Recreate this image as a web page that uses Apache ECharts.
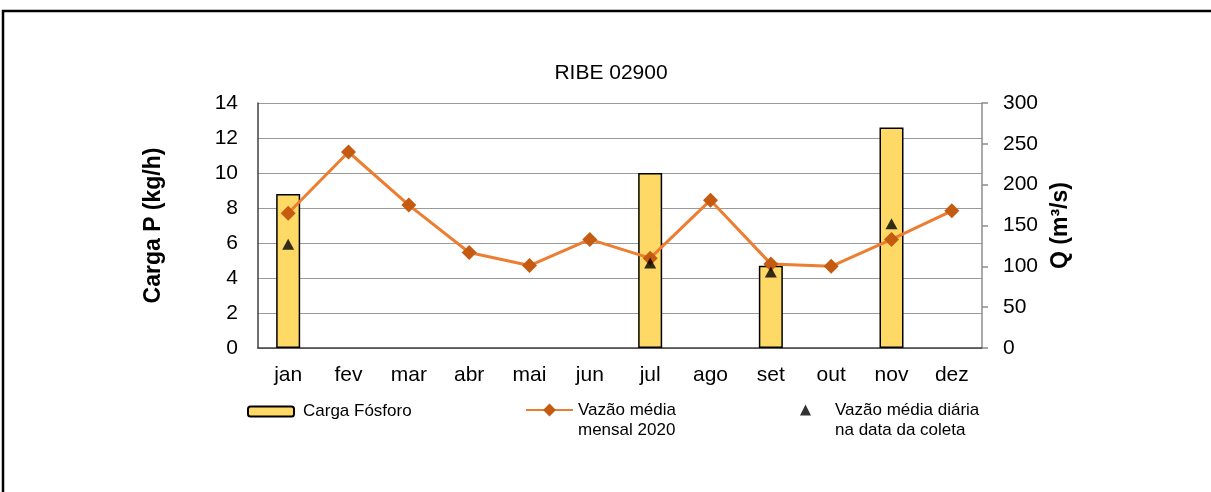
<!DOCTYPE html>
<html>
<head>
<meta charset="utf-8">
<script src="https://cdn.jsdelivr.net/npm/echarts@6/dist/echarts.min.js"></script>
<style>
  html, body { margin: 0; padding: 0; background: #fff; }
  #chart { width: 1211px; height: 492px; }
</style>
</head>
<body>
<div id="chart"></div>
<script>
// Months of 2020
const months = ['jan', 'fev', 'mar', 'abr', 'mai', 'jun', 'jul', 'ago', 'set', 'out', 'nov', 'dez'];
// Phosphorus load (kg/h), only on sampling months
const cargaFosforo = [8.8, '-', '-', '-', '-', '-', 10.0, '-', 4.7, '-', 12.6, '-'];
// Monthly mean discharge 2020 (m³/s)
const vazaoMensal = [165, 240, 175, 117, 101, 133, 110, 181, 103, 100, 133, 168];
// Daily mean discharge on the sampling date (m³/s)
const vazaoDiaria = [127, '-', '-', '-', '-', '-', 104, '-', 93, '-', 152, '-'];

const leftTicks = { min: 0, max: 14, interval: 2 };
const rightTicks = { min: 0, max: 300, interval: 50 };

const nameBar = 'Carga Fósforo';
const nameLine = 'Vazão média\nmensal 2020';
const nameScatter = 'Vazão média diária\nna data da coleta';

const font = 'Liberation Sans, Arial, sans-serif';

// Two-line legend labels: a leading empty line keeps the icon level with the first line
const twoLineFormatter = name => '\n' + name;

const chart = echarts.init(document.getElementById('chart'), null, { renderer: 'canvas' });

chart.setOption({
  backgroundColor: '#ffffff',
  animation: false,
  textStyle: { fontFamily: font, color: '#000' },
  title: {
    text: 'RIBE 02900',
    left: 606,
    textAlign: 'center',
    top: 58,
    textStyle: { fontFamily: font, fontSize: 21, fontWeight: 'normal', color: '#000' }
  },
  graphic: [{
    type: 'rect',
    silent: true,
    shape: { x: 3, y: 11, width: 1300, height: 600 },
    style: { fill: 'none', stroke: '#000', lineWidth: 2.5 }
  }],
  grid: { left: 258, right: 229, top: 103, bottom: 144, containLabel: false },
  legend: [
    {
      data: [nameBar],
      left: 247, top: 403,
      padding: 0,
      itemWidth: 46, itemHeight: 10,
      textStyle: { fontFamily: font, fontSize: 17, color: '#000', padding: [0, 0, 0, 4] }
    },
    {
      data: [nameLine],
      left: 525, top: 380,
      padding: 0,
      itemWidth: 47, itemHeight: 16,
      formatter: twoLineFormatter,
      textStyle: { fontFamily: font, fontSize: 17, color: '#000', lineHeight: 20 }
    },
    {
      data: [{ name: nameScatter, icon: 'triangle' }],
      left: 800, top: 380,
      padding: 0,
      itemWidth: 11, itemHeight: 11,
      formatter: twoLineFormatter,
      textStyle: { fontFamily: font, fontSize: 17, color: '#000', lineHeight: 20, padding: [0, 0, 0, 19] }
    }
  ],
  xAxis: {
    type: 'category',
    data: months,
    axisLine: { show: true, lineStyle: { color: '#404040', width: 1.5 } },
    axisTick: { show: false },
    axisLabel: { fontFamily: font, fontSize: 21, color: '#000', margin: 17 },
    splitLine: { show: false }
  },
  yAxis: [
    {
      type: 'value',
      min: leftTicks.min, max: leftTicks.max, interval: leftTicks.interval,
      name: 'Carga P (kg/h)',
      nameLocation: 'middle',
      nameRotate: 90,
      nameGap: 93,
      nameTextStyle: { fontFamily: font, fontSize: 23, fontWeight: 'bold', color: '#000' },
      axisLine: { show: true, lineStyle: { color: '#404040', width: 1.5 } },
      axisTick: { show: false },
      axisLabel: { fontFamily: font, fontSize: 21, color: '#000', margin: 20 },
      splitLine: { show: true, lineStyle: { color: '#9a9a9a', width: 1 } }
    },
    {
      type: 'value',
      position: 'right',
      min: rightTicks.min, max: rightTicks.max, interval: rightTicks.interval,
      name: 'Q (m³/s)',
      nameLocation: 'middle',
      nameRotate: 90,
      nameGap: 40,
      nameTextStyle: { fontFamily: font, fontSize: 23, fontWeight: 'bold', color: '#000' },
      axisLine: { show: true, lineStyle: { color: '#8c8c8c', width: 1.5 } },
      axisTick: { show: true, length: 6, lineStyle: { color: '#8c8c8c', width: 1.5 } },
      axisLabel: { fontFamily: font, fontSize: 21, color: '#000', margin: 21 },
      splitLine: { show: false }
    }
  ],
  series: [
    {
      name: nameBar,
      type: 'bar',
      yAxisIndex: 0,
      data: cargaFosforo,
      barWidth: 24,
      itemStyle: { color: '#FFD966', borderColor: '#000', borderWidth: 1.5 },
      z: 2
    },
    {
      name: nameLine,
      type: 'line',
      yAxisIndex: 1,
      data: vazaoMensal,
      symbol: 'diamond',
      symbolSize: 15,
      showAllSymbol: true,
      lineStyle: { color: '#ED7D31', width: 3 },
      itemStyle: { color: '#C55A11', borderWidth: 0 },
      z: 3
    },
    {
      name: nameScatter,
      type: 'scatter',
      yAxisIndex: 1,
      data: vazaoDiaria,
      symbol: 'triangle',
      symbolSize: [12, 11],
      itemStyle: { color: '#000' },
      z: 4
    }
  ]
});
</script>
</body>
</html>
